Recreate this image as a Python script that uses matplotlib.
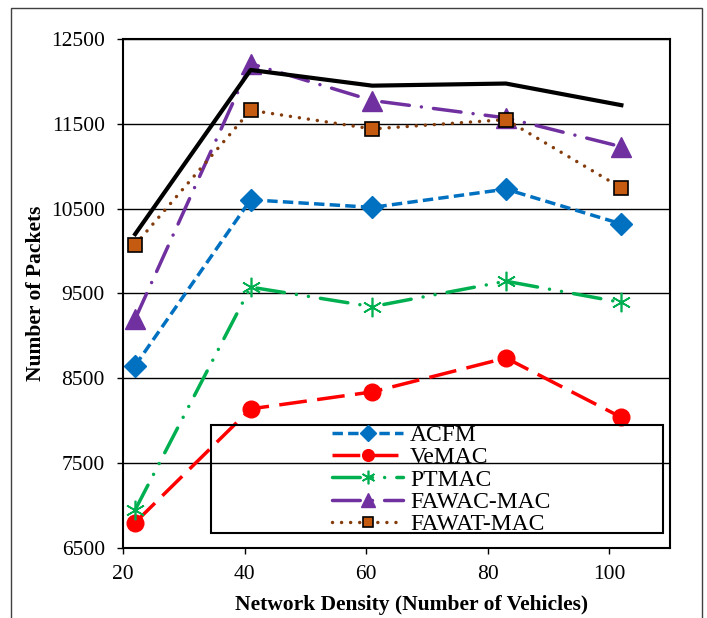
import matplotlib
matplotlib.use('Agg')
import matplotlib.pyplot as plt
from matplotlib.patches import Rectangle

plt.rcParams['font.family'] = 'Liberation Serif'

# data
density = [22, 41, 61, 83, 102]
acfm = [8650, 10605, 10515, 10730, 10320]
vemac = [6800, 8140, 8340, 8740, 8040]
ptmac = [6950, 9575, 9345, 9645, 9395]
fawac = [9200, 12210, 11775, 11570, 11230]
fawat = [10075, 11660, 11440, 11550, 10745]
upper = [10200, 12135, 11950, 11975, 11720]

fig = plt.figure(figsize=(7.07, 6.18), dpi=100)
ax = fig.add_axes([123/707, 1-548/618, 547/707, 509/618])

lw = 2.5
ax.plot(density, acfm, color='#0070C0', lw=lw, dashes=(3, 1.5),
        marker='D', ms=11, label='ACFM')
ax.plot(density, vemac, color='#FF0000', lw=lw, dashes=(8, 3),
        marker='o', ms=12, label='VeMAC')
ax.plot(density, ptmac, color='#00B050', lw=lw, dashes=(8, 3.5, 0.01, 3.5, 0.01, 3.5),
        dash_capstyle='round', marker=(6, 2, 0), ms=14, mew=1.2, label='PTMAC')
ax.plot(density, fawac, color='#7030A0', lw=lw, dashes=(8, 3.5, 0.01, 3.5),
        dash_capstyle='round', marker='^', ms=14, label='FAWAC-MAC')
ax.plot(density, fawat, color='#843C0C', lw=lw, dashes=(0.01, 2.6),
        dash_capstyle='round', marker='s', ms=10, mfc='#C55A11', mec='black',
        mew=1.2, label='FAWAT-MAC')
ax.plot(density, upper, color='black', lw=3)

ax.set_xlim(20, 110)
ax.set_ylim(6500, 12500)
ax.set_xticks([20, 40, 60, 80, 100])
ax.set_yticks(range(6500, 12501, 1000))
ax.yaxis.grid(True, color='black', lw=1)
ax.set_axisbelow(True)
for s in ax.spines.values():
    s.set_linewidth(1.5)
ax.tick_params(axis='both', labelsize=15.5, length=4, width=1)
ax.tick_params(axis='y', pad=9)
ax.tick_params(axis='x', pad=8)

ax.set_xlabel('Network Density (Number of Vehicles)', fontsize=15.5, fontweight='bold')
ax.set_ylabel('Number of Packets', fontsize=15.5, fontweight='bold')
ax.xaxis.set_label_coords(0.527, -0.093)
ax.yaxis.set_label_coords(-0.14, 0.5)

# legend box (no fill) + centred entries
ax.add_patch(Rectangle((0.161, 0.029), 0.826, 0.213, transform=ax.transAxes,
                       fill=False, ec='black', lw=1.5, zorder=5))
ax.legend(loc='center', bbox_to_anchor=(0.582, 0.134), frameon=False,
          fontsize=17, handlelength=3.0, handletextpad=0.3,
          labelspacing=0.03, borderpad=0, markerscale=0.7)

# chart area border
fig.add_artist(Rectangle((11/707, -0.05), 691/707, 1.05-8/618,
                         transform=fig.transFigure, fill=False,
                         ec='#404040', lw=1))

plt.savefig('out.png', dpi=100)
